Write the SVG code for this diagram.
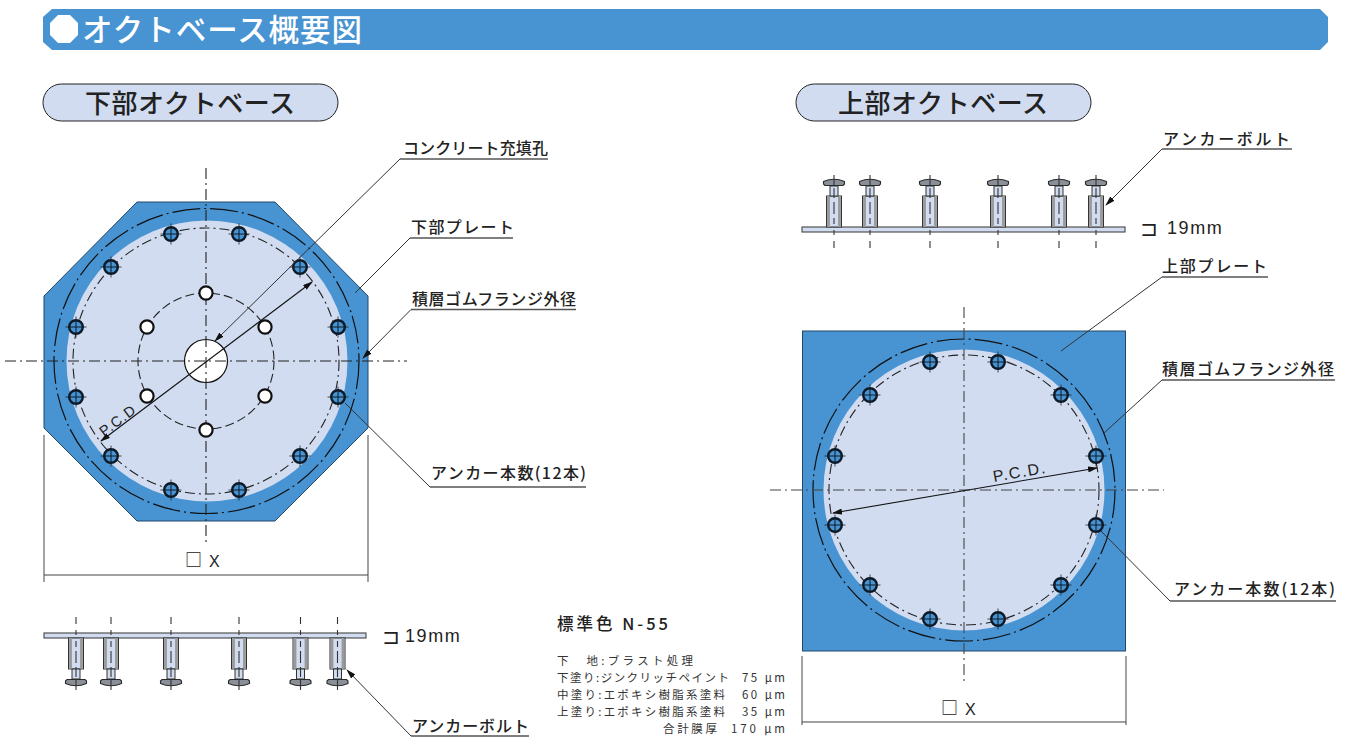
<svg xmlns="http://www.w3.org/2000/svg" width="1349" height="751" viewBox="0 0 1349 751">
<style>
text{font-family:"Noto Sans CJK JP","Liberation Sans",sans-serif;fill:#222;font-weight:500}
.lat{font-family:"Liberation Sans","Noto Sans CJK JP",sans-serif;font-weight:400}
.blue{fill:#4893d1;stroke:#23486b;stroke-width:1}
.light{fill:#d1dcf1}
.cl{fill:none;stroke:#222;stroke-width:1.1;stroke-dasharray:11 4 2 4}
.cl2{fill:none;stroke:#444;stroke-width:1.1;stroke-dasharray:11 4 2 4}
.flange{fill:none;stroke:#111;stroke-width:1.2;stroke-dasharray:28 4 2 4}
.pcd{fill:none;stroke:#222;stroke-width:1.1;stroke-dasharray:10 4 2 4}
.pcd2{fill:none;stroke:#222;stroke-width:1.1;stroke-dasharray:9 4}
.lead{fill:none;stroke:#333;stroke-width:1}
.under{fill:none;stroke:#555;stroke-width:1.3}
.dim{fill:none;stroke:#666;stroke-width:1.2}
.pill{fill:#d1dcf1;stroke:#222;stroke-width:1}
.plate{fill:#d1dcf1;stroke:#444;stroke-width:1.1}
.lab{font-size:16px}
.coat{font-size:11.500px;fill:#333;font-weight:400}
.thk{font-family:"DejaVu Sans",sans-serif;font-size:21px;font-weight:400}
.mm{font-size:18px;letter-spacing:1.600px}
</style>
<defs>
<marker id="ah" viewBox="0 0 10 6" refX="9" refY="3" markerWidth="10" markerHeight="6" markerUnits="userSpaceOnUse" orient="auto-start-reverse"><path d="M0 0L10 3L0 6z" fill="#111"/></marker>
<g id="hole"><path d="M-10.500 0H10.500M0 -10.500V10.500" stroke="#222" stroke-width=".8"/><circle r="6.800" fill="#4893d1" stroke="#0c1a28" stroke-width="2.400"/><path d="M-6 0H6M0 -6V6" stroke="#0c1a28" stroke-width="1"/></g>
<g id="wh"><circle r="6.600" fill="#fff" stroke="#111" stroke-width="2.200"/></g>
<g id="bolt">
<rect x="-7.500" y="0" width="15" height="31" fill="#d1dcf1" stroke="#333" stroke-width="1"/>
<path d="M-5.500 0V31M5.500 0V31" stroke="#999" stroke-width="2.800"/>
<rect x="-4" y="31" width="8" height="10" fill="#d1dcf1" stroke="#333" stroke-width="1"/>
<path d="M-9 41.500H9L10.500 43V45.500Q0 50 -10.500 45.500V43Z" fill="#8a8f98" stroke="#2a2a2a" stroke-width="1.100"/>
<path d="M0 -21V-14M0 -8V-3M0 3V9M0 13V25M0 29V39M0 42V52" stroke="#333" stroke-width="1.100"/>
</g>
</defs>
<g id="title">
<path d="M52 9H1320L1328 17V42L1320 50H52L43 42V17Z" fill="#4893d1"/>
<path d="M58 15H70L78 23V35L70 43H58L50 35V23Z" fill="#fff"/>
<text x="82" y="41" font-size="30.500" textLength="280" style="fill:#fff">オクトベース概要図</text>
</g>
<g id="lower-pill"><rect class="pill" x="43" y="84" width="295" height="37" rx="18.500"/><text x="85" y="113" font-size="26" textLength="210">下部オクトベース</text></g>
<g id="upper-pill"><rect class="pill" x="796" y="84" width="295" height="37" rx="18.500"/><text x="838" y="113" font-size="26" textLength="210">上部オクトベース</text></g>

<g id="lower-base">
<path class="blue" d="M137 202H275L368 296V428L275 521H137L44 428V296Z"/>
<circle class="light" cx="207" cy="361" r="140.500"/>
<circle class="flange" cx="206.500" cy="361" r="152.500"/>
<circle class="pcd" cx="206" cy="361" r="133"/>
<circle class="pcd2" cx="206" cy="361" r="68"/>
<circle cx="206" cy="361" r="21.500" fill="#fff" stroke="#111" stroke-width="1.200"/>
<path class="cl" d="M206 168V545M5 361H407"/>
<use href="#hole" x="171" y="234"/><use href="#hole" x="239" y="234"/>
<use href="#hole" x="111" y="267"/><use href="#hole" x="300" y="267"/>
<use href="#hole" x="76" y="327"/><use href="#hole" x="338" y="327"/>
<use href="#hole" x="76" y="397"/><use href="#hole" x="338" y="397"/>
<use href="#hole" x="111" y="456"/><use href="#hole" x="300" y="456"/>
<use href="#hole" x="171" y="490"/><use href="#hole" x="239" y="490"/>
<use href="#wh" x="206" y="293"/><use href="#wh" x="265" y="327"/><use href="#wh" x="265" y="396"/>
<use href="#wh" x="206" y="430"/><use href="#wh" x="147" y="396"/><use href="#wh" x="147" y="327"/>
<text class="lat" transform="translate(104 437) rotate(-37)" font-size="14.500" letter-spacing="1">P.C.D</text>
<text x="185" y="566" font-size="17">□</text><text class="lat" x="209" y="567" font-size="16">X</text>
</g>

<g id="lower-side">
<rect class="plate" x="44" y="633" width="322" height="5"/>
<g transform="translate(0 638)"><use href="#bolt" x="76"/><use href="#bolt" x="111"/><use href="#bolt" x="171"/><use href="#bolt" x="239"/><use href="#bolt" x="300.500"/><use href="#bolt" x="337.500"/></g>
<text class="thk" x="382" y="644">⊐</text><text class="lat mm" x="405" y="642">19mm</text>
</g>

<g id="upper-side">
<rect class="plate" x="802" y="227" width="323" height="5"/>
<g transform="translate(0 227) scale(1 -1)"><use href="#bolt" x="834"/><use href="#bolt" x="870"/><use href="#bolt" x="930"/><use href="#bolt" x="998"/><use href="#bolt" x="1059"/><use href="#bolt" x="1096"/></g>
<text class="thk" x="1140" y="236">⊐</text><text class="lat mm" x="1167" y="234">19mm</text>
</g>

<g id="upper-base">
<rect class="blue" x="802.500" y="331" width="323" height="320"/>
<circle class="light" cx="964" cy="490" r="140.500"/>
<circle class="flange" cx="964" cy="490" r="151"/>
<circle class="pcd" cx="964" cy="490" r="135"/>
<path class="cl2" d="M964 307V682M770 490H1164"/>
<use href="#hole" x="930" y="362"/><use href="#hole" x="998" y="362"/>
<use href="#hole" x="870" y="395"/><use href="#hole" x="1061" y="395"/>
<use href="#hole" x="835" y="456"/><use href="#hole" x="1096" y="456"/>
<use href="#hole" x="835" y="525"/><use href="#hole" x="1096" y="525"/>
<use href="#hole" x="870" y="585"/><use href="#hole" x="1061" y="585"/>
<use href="#hole" x="930" y="619"/><use href="#hole" x="998" y="619"/>
<text class="lat" transform="translate(994 482) rotate(-10)" font-size="16" letter-spacing="1.500">P.C.D.</text>
<text x="941" y="714" font-size="17">□</text><text class="lat" x="965" y="715" font-size="16">X</text>
</g>

<g id="connectors">
<path d="M101 441L312 282" fill="none" stroke="#111" stroke-width="1.100" marker-start="url(#ah)" marker-end="url(#ah)"/>
<path d="M833 513L1097 468" fill="none" stroke="#111" stroke-width="1.100" marker-start="url(#ah)" marker-end="url(#ah)"/>
<path class="dim" d="M44 435V582M368 435V582"/>
<path d="M44 575H368" fill="none" stroke="#444" stroke-width="1.100"/>
<path class="dim" d="M802 656V725M1126 656V725"/>
<path d="M802 722H1126" fill="none" stroke="#444" stroke-width="1.100"/>
<path class="lead" d="M400 159L215 341" marker-end="url(#ah)"/><path class="under" d="M400 159H548"/>
<path class="lead" d="M410 238L355 293"/><path class="under" d="M410 238H513"/>
<path class="lead" d="M411 309.500L363 358" marker-end="url(#ah)"/><path class="under" d="M411 309.500H576"/>
<path class="lead" d="M430 487L345 403"/><path class="under" d="M430 487H586"/>
<path class="lead" d="M411 736L347 670" marker-end="url(#ah)"/><path class="under" d="M411 736H529"/>
<path class="lead" d="M1162 149L1106 205" marker-end="url(#ah)"/><path class="under" d="M1162 149H1292"/>
<path class="lead" d="M1162 277L1061 351"/><path class="under" d="M1162 277H1268"/>
<path class="lead" d="M1162 380L1104 433"/><path class="under" d="M1162 380H1335"/>
<path class="lead" d="M1170 601L1101 531"/><path class="under" d="M1170 601H1336"/>
</g>

<g id="labels">
<text class="lab" x="403" y="154" textLength="145">コンクリート充填孔</text>
<text class="lab" x="411" y="233" textLength="103">下部プレート</text>
<text class="lab" x="412" y="305" textLength="164">積層ゴムフランジ外径</text>
<text class="lab" x="431" y="479" textLength="155">アンカー本数(12本)</text>
<text class="lab" x="412" y="732" textLength="117">アンカーボルト</text>
<text class="lab" x="1163" y="145" textLength="127">アンカーボルト</text>
<text class="lab" x="1162" y="272" textLength="105">上部プレート</text>
<text class="lab" x="1162" y="375" textLength="172">積層ゴムフランジ外径</text>
<text class="lab" x="1174" y="595" textLength="161">アンカー本数(12本)</text>
</g>

<g id="paint-spec">
<text x="557" y="630" font-size="16.500" textLength="111">標準色 N-55</text>
<text class="coat" x="557" y="665" textLength="136">下　地:ブラスト処理</text>
<text class="coat" x="557" y="682" textLength="172">下塗り:ジンクリッチペイント</text>
<text class="coat" x="557" y="699" textLength="168">中塗り:エポキシ樹脂系塗料</text>
<text class="coat" x="557" y="716" textLength="168">上塗り:エポキシ樹脂系塗料</text>
<text class="coat" x="663" y="733" textLength="54">合計膜厚</text>
<text class="coat" x="742" y="682" textLength="43">75 μm</text>
<text class="coat" x="742" y="699" textLength="43">60 μm</text>
<text class="coat" x="742" y="716" textLength="43">35 μm</text>
<text class="coat" x="731" y="733" textLength="54">170 μm</text>
</g>
</svg>
